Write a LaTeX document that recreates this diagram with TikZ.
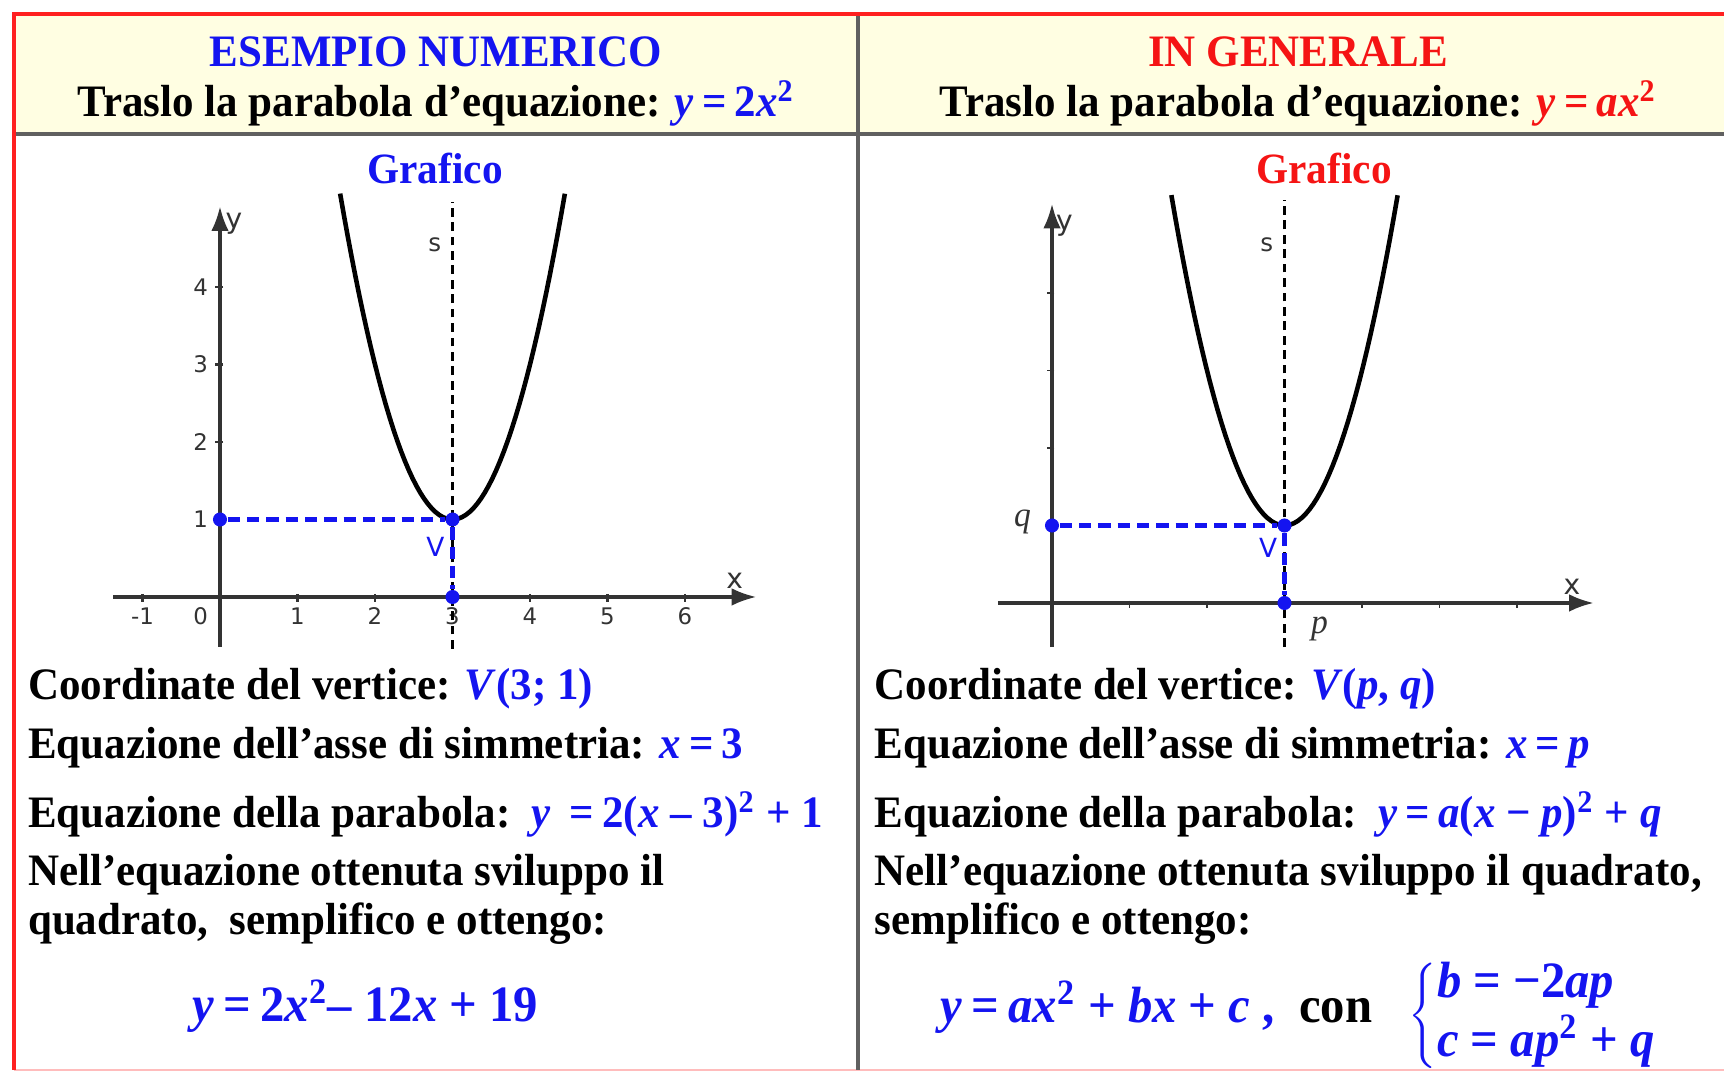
\documentclass[tikz,border=0pt]{standalone}
\usepackage{fontspec}
\setmainfont{Liberation Serif}[FakeStretch=0.955]
\newfontfamily\ggfont{DejaVu Sans}
\usepackage{tikz}
\usetikzlibrary{positioning, arrows.meta, calc}
\usepackage{xcolor}
\definecolor{paraBlue}{HTML}{1414F0}
\definecolor{paraRed}{HTML}{F51414}
\definecolor{paraCream}{HTML}{FFFEE2}
\definecolor{paraFrame}{HTML}{FF2020}
\definecolor{paraGray}{HTML}{333333}
\definecolor{paraLine}{HTML}{606060}
\newcommand{\blu}[1]{\textcolor{paraBlue}{#1}}
\newcommand{\rosso}[1]{\textcolor{paraRed}{#1}}
\newcommand{\vv}[1]{\textit{#1}}
\newcommand{\ug}{\hspace{0.18em}=\hspace{0.18em}}

\begin{document}
\begin{tikzpicture}[font=\bfseries\fontsize{12.8}{15}\selectfont,
    testo/.style={anchor=base west, inner sep=0pt},
    titolo/.style={anchor=base, inner sep=0pt},
    asse/.style={draw=paraGray, line width=0.9pt, -{Latex[length=7pt,width=5pt]}},
    tacca/.style={paraGray, line width=0.6pt},
    etich/.style={font=\ggfont\fontsize{6.5}{7}\selectfont, text=paraGray, inner sep=0pt},
    lettera/.style={font=\itshape\fontsize{10}{11}\selectfont, text=paraGray, inner sep=0pt},
    simm/.style={black, line width=0.9pt, dash pattern=on 2.5pt off 1.6pt},
    proiez/.style={paraBlue, line width=1.3pt, dash pattern=on 3.5pt off 2pt},
    punto/.style={circle, fill=paraBlue, inner sep=0pt, minimum size=4pt},
    parab/.style={black, line width=1.3pt}]
  \useasboundingbox (0,0) rectangle (17.24,10.72);
  % Tabella
  \fill[paraCream] (0.14,9.38) rectangle (17.24,10.58);
  \draw[paraFrame!30, line width=0.8pt] (0.14,0.02) -- (17.24,0.02);
  \draw[paraLine, line width=1.2pt] (0.14,9.38) -- (17.24,9.38);
  \draw[paraLine, line width=1pt] (8.58,10.58) -- (8.58,0.02);
  \draw[paraFrame, line width=1.3pt] (0.14,0.02) -- (0.14,10.58) -- (17.24,10.58);

  % Intestazioni
  \node[titolo, text=paraBlue] (titA) at (4.36,10.05) {ESEMPIO NUMERICO};
  \node[titolo] (sotA) at (4.36,9.55) {Traslo la parabola d’equazione: \blu{\vv{y}\ug 2\vv{x}\textsuperscript{2}}};
  \node[titolo, text=paraRed] (titB) at (12.98,10.05) {IN GENERALE};
  \node[titolo] (sotB) at (12.98,9.55) {Traslo la parabola d’equazione: \rosso{\vv{y}\ug\vv{ax}\textsuperscript{2}}};
  \node[titolo, font=\bfseries\fontsize{12.3}{14}\selectfont, text=paraBlue] (grA) at (4.35,8.88) {Grafico};
  \node[titolo, font=\bfseries\fontsize{12.3}{14}\selectfont, text=paraRed] (grB) at (13.24,8.88) {Grafico};

  % Grafico numerico
  \begin{scope}[shift={(2.20,4.75)}, x=0.775cm, y=0.775cm]
    \draw[asse] (-1.38,0) -- (6.92,0);
    \draw[asse] (0,-0.64) -- (0,5.04);
    \foreach \i in {-1,1,2,3,4,5,6} {
      \draw[tacca] (\i,0.04) -- (\i,-0.07);
      \node[etich] (tx\i) at (\i,-0.25) {\i};
    }
    \node[etich] (tx0) at (-0.25,-0.25) {0};
    \foreach \j in {1,...,4} {
      \draw[tacca] (0.04,\j) -- (-0.07,\j);
      \node[etich] (ty\j) at (-0.25,\j) {\j};
    }
    \node[etich, font=\ggfont\fontsize{8}{9}\selectfont] (xa) at (6.64,0.21) {x};
    \node[etich, font=\ggfont\fontsize{8}{9}\selectfont] (ya) at (0.18,4.82) {y};
    \draw[simm] (3,-0.67) -- (3,5.1);
    \node[etich, font=\ggfont\fontsize{7}{8}\selectfont] (sa) at (2.77,4.55) {s};
    \draw[parab] plot[domain=1.55:4.45, samples=60] (\x, {2*(\x-3)^2+1});
    \node[punto] (Va) at (3,1) {};
    \node[punto] (Qa) at (0,1) {};
    \node[punto] (Pa) at (3,0) {};
    \draw[proiez] (Qa) -- (Va);
    \draw[proiez] (Va) -- (Pa);
    \node[etich, font=\ggfont\fontsize{7.5}{8}\selectfont, text=paraBlue] (lVa) at (2.78,0.65) {V};
  \end{scope}

  % Grafico generale
  \begin{scope}[shift={(10.52,4.69)}, x=0.775cm, y=0.775cm]
    \draw[asse] (-0.70,0) -- (6.99,0);
    \draw[asse] (0,-0.57) -- (0,5.15);
    \foreach \i in {1,...,6}
      \draw[tacca, line width=0.5pt] (\i,0.03) -- (\i,-0.06);
    \foreach \j in {1,...,4}
      \draw[tacca, line width=0.5pt] (0.03,\j) -- (-0.06,\j);
    \node[etich, font=\ggfont\fontsize{8}{9}\selectfont] (xb) at (6.71,0.21) {x};
    \node[etich, font=\ggfont\fontsize{8}{9}\selectfont] (yb) at (0.16,4.87) {y};
    \draw[simm] (3,-0.57) -- (3,5.2);
    \node[etich, font=\ggfont\fontsize{7}{8}\selectfont] (sb) at (2.77,4.62) {s};
    \draw[parab] plot[domain=1.54:4.46, samples=60] (\x, {2*(\x-3)^2+1});
    \node[punto] (Vb) at (3,1) {};
    \node[punto] (Qb) at (0,1) {};
    \node[punto] (Pb) at (3,0) {};
    \draw[proiez] (Qb) -- (Vb);
    \draw[proiez] (Vb) -- (Pb);
    \node[etich, font=\ggfont\fontsize{7.5}{8}\selectfont, text=paraBlue] (lVb) at (2.79,0.71) {V};
    \node[lettera] (lq) at (-0.38,1.04) {q};
    \node[lettera] (lp) at (3.45,-0.34) {p};
  \end{scope}

  % Testo colonna sinistra
  \node[testo] (t1) at (0.275,3.72) {Coordinate del vertice: \blu{\vv{V}(3; 1)}};
  \node[testo] (t2) at (0.275,3.13) {Equazione dell’asse di simmetria: \blu{\vv{x}\ug 3}};
  \node[testo] (t3) at (0.275,2.44) {Equazione della parabola:\ \ \blu{\vv{y}\ \ug 2(\vv{x} – 3)\textsuperscript{2} + 1}};
  \node[testo] (t4) at (0.275,1.86) {Nell’equazione ottenuta sviluppo il};
  \node[testo] (t5) at (0.275,1.37) {quadrato,\ \ semplifico e ottengo:};
  \node[testo, font=\bfseries\fontsize{14.5}{17}\selectfont] (t6) at (1.92,0.50)
    {\blu{\vv{y}\ug 2\vv{x}\textsuperscript{2}– 12\vv{x} + 19}};

  % Testo colonna destra
  \node[testo] (u1) at (8.74,3.72) {Coordinate del vertice: \blu{\vv{V}(\vv{p}, \vv{q})}};
  \node[testo] (u2) at (8.74,3.13) {Equazione dell’asse di simmetria: \blu{\vv{x}\ug\vv{p}}};
  \node[testo] (u3) at (8.74,2.44) {Equazione della parabola:\ \ \blu{\vv{y}\ug\vv{a}(\vv{x} − \vv{p})\textsuperscript{2} + \vv{q}}};
  \node[testo] (u4) at (8.74,1.86) {Nell’equazione ottenuta sviluppo il quadrato,};
  \node[testo] (u5) at (8.74,1.37) {semplifico e ottengo:};
  \node[testo, font=\bfseries\fontsize{14.5}{17}\selectfont] (u6) at (9.40,0.49)
    {\blu{\vv{y}\ug\vv{ax}\textsuperscript{2} + \vv{bx} + \vv{c} ,}\ \ con};
  \node[anchor=west, inner sep=0pt, text=paraBlue, font=\bfseries\fontsize{14.5}{16}\selectfont] (sis) at (14.08,0.56)
    {$\left\{\begin{tabular}{@{}l@{}}\vv{b} = −2\vv{ap}\\ \vv{c} = \vv{ap}\textsuperscript{2} + \vv{q}\end{tabular}\right.$};
\end{tikzpicture}
\end{document}
